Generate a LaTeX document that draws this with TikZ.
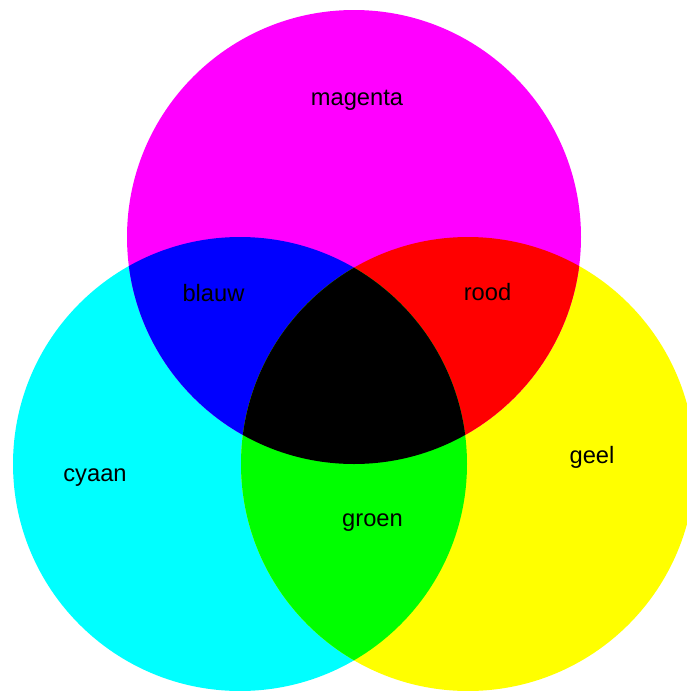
\documentclass[tikz,border=0pt]{standalone}
\usepackage{fontspec}
\setmainfont{Liberation Sans}
\definecolor{cyaan}{RGB}{0,255,255}
\definecolor{magenta}{RGB}{255,0,255}
\definecolor{geel}{RGB}{255,255,0}
\definecolor{blauw}{RGB}{0,0,255}
\definecolor{rood}{RGB}{255,0,0}
\definecolor{groen}{RGB}{0,255,0}

\begin{document}
\begin{tikzpicture}[x=1pt,y=-1pt,
    label/.style={font=\fontsize{23.7}{28}\selectfont, text=black, inner sep=0pt, anchor=base}]
                        \clip (0,0) rectangle (687,691);
                        % Centres
                        \coordinate (M) at (354,237);
                        \coordinate (C) at (240,464);
                        \coordinate (Y) at (468,464);
                        \def\rad{227pt}

                        % Circles
                        \fill[cyaan] (C) circle[radius=\rad];
                        \fill[geel] (Y) circle[radius=\rad];
                        \fill[magenta] (M) circle[radius=\rad];

                        % Overlaps
                        \begin{scope}
                          \clip (C) circle[radius=\rad];
                          \fill[blauw] (M) circle[radius=\rad];
                        \end{scope}
                        \begin{scope}
                          \clip (Y) circle[radius=\rad];
                          \fill[rood] (M) circle[radius=\rad];
                        \end{scope}
                        \begin{scope}
                          \clip (C) circle[radius=\rad];
                          \fill[groen] (Y) circle[radius=\rad];
                        \end{scope}
                        \begin{scope}
                          \clip (C) circle[radius=\rad];
                          \clip (Y) circle[radius=\rad];
                          \fill[black] (M) circle[radius=\rad];
                        \end{scope}

                        % Labels
                        \node[label] (magenta) at (357,105) {magenta};
                        \node[label] (blauw) at (213.5,301.5) {blauw};
                        \node[label] (rood) at (487.5,300) {rood};
                        \node[label] (cyaan) at (95,481) {cyaan};
                        \node[label] (geel) at (592,463) {geel};
                        \node[label] (groen) at (372.5,526) {groen};
                    \end{tikzpicture}
\end{document}
